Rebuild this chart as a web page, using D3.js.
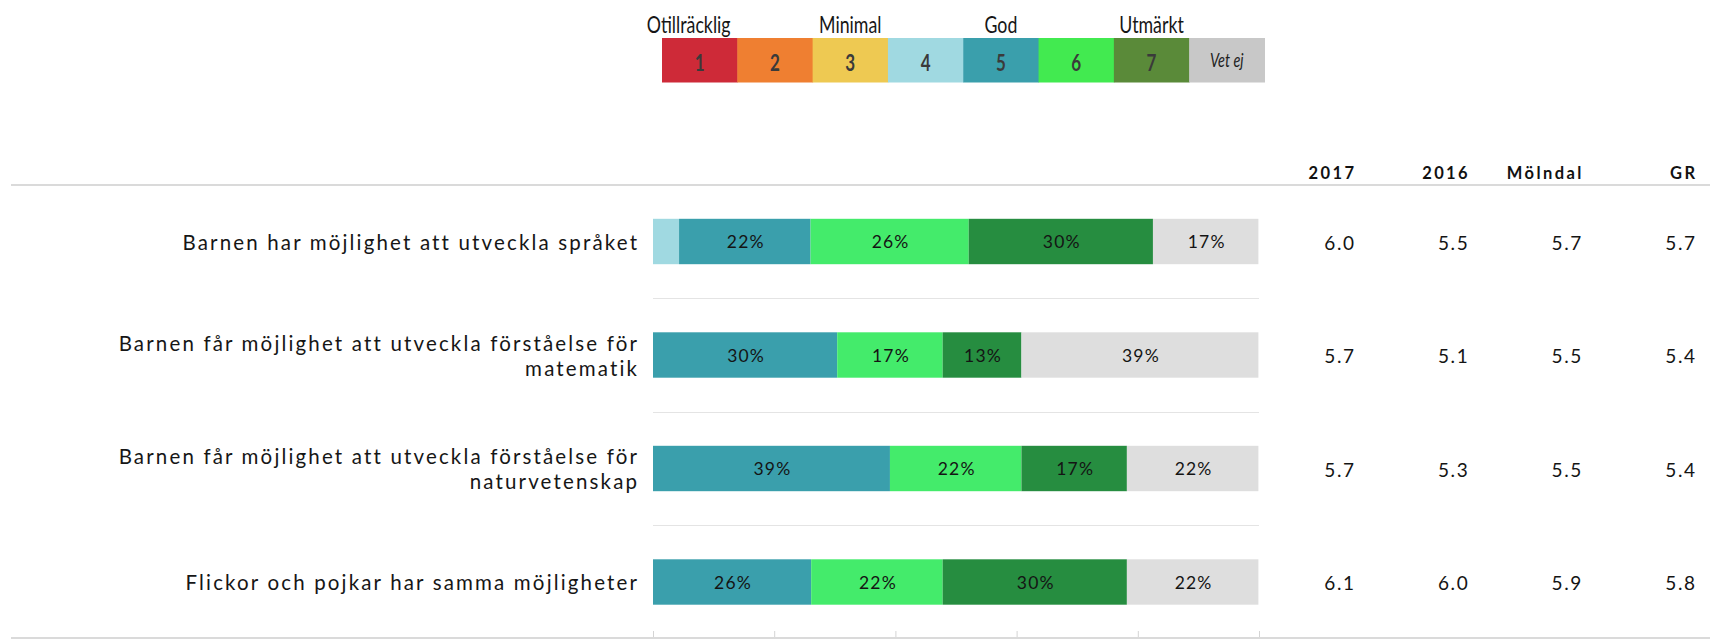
<!DOCTYPE html>
<html>
<head>
<meta charset="utf-8">
<script src="https://cdn.jsdelivr.net/npm/d3@7"></script>
<style>
  html, body { margin: 0; padding: 0; background: #fff; }
  svg { display: block; }
  text { font-family: Lato, "Open Sans", sans-serif; }
</style>
</head>
<body>
<svg id="chart" width="1710" height="639"></svg>
<script>
// ---------- data ----------
const categories = [
  "Barnen har möjlighet att utveckla språket",
  "Barnen får möjlighet att utveckla förståelse för matematik",
  "Barnen får möjlighet att utveckla förståelse för naturvetenskap",
  "Flickor och pojkar har samma möjligheter"
];
const seriesKeys = ["4", "5", "6", "7", "Vet ej"];
const share4     = [4.3, 0, 0, 0];
const share5     = [21.7, 30.4, 39.1, 26.1];
const share6     = [26.1, 17.4, 21.7, 21.7];
const share7     = [30.4, 13.0, 17.4, 30.4];
const shareVetEj = [17.4, 39.1, 21.7, 21.7];

const tableHeaders = ["2017", "2016", "Mölndal", "GR"];
const v2017    = [6.0, 5.7, 5.7, 6.1];
const v2016    = [5.5, 5.1, 5.3, 6.0];
const vMolndal = [5.7, 5.5, 5.5, 5.9];
const vGR      = [5.7, 5.4, 5.4, 5.8];

const legendKeys = ["1", "2", "3", "4", "5", "6", "7", "Vet ej"];
const legendLabels = [
  { key: "1", text: "Otillräcklig" },
  { key: "3", text: "Minimal" },
  { key: "5", text: "God" },
  { key: "7", text: "Utmärkt" }
];
const xTicks = [0, 20, 40, 60, 80, 100];

// ---------- styles ----------
const barColors = {
  "4": "#a0d9e1", "5": "#3a9fac", "6": "#44eb6b", "7": "#268d40", "Vet ej": "#dedede"
};
const legendColors = {
  "1": "#ce2a38", "2": "#ef7f31", "3": "#eec952", "4": "#a0d9e1",
  "5": "#3a9fac", "6": "#42ea50", "7": "#5a8a39", "Vet ej": "#c8c8c8"
};

// ---------- build ----------
const seriesArrays = { "4": share4, "5": share5, "6": share6, "7": share7, "Vet ej": shareVetEj };
const rows = categories.map((c, i) => {
  const r = { category: c };
  seriesKeys.forEach(k => r[k] = seriesArrays[k][i]);
  return r;
});
const columns = [v2017, v2016, vMolndal, vGR];

const svg = d3.select("#chart");
const W = 1710, H = 639;

const x = d3.scaleLinear().domain([0, 100]).range([653, 1259]);
const y = d3.scaleBand().domain(categories).range([184.75, 638.75])
  .paddingInner(0.6).paddingOuter(0.3);
const bw = y.bandwidth();
const step = y.step();

// top and bottom rules
svg.append("line").attr("x1", 11).attr("x2", W).attr("y1", 185).attr("y2", 185)
  .attr("stroke", "#dadada").attr("stroke-width", 2);
svg.append("line").attr("x1", 11).attr("x2", W).attr("y1", 638).attr("y2", 638)
  .attr("stroke", "#dadada").attr("stroke-width", 2);

// row separators
svg.append("g").selectAll("line")
  .data(categories.slice(0, -1))
  .join("line")
  .attr("x1", x(0)).attr("x2", x(100))
  .attr("y1", d => Math.round(y(d) + bw / 2 + step / 2) + 0.5)
  .attr("y2", d => Math.round(y(d) + bw / 2 + step / 2) + 0.5)
  .attr("stroke", "#e4e4e4").attr("stroke-width", 1);

// bottom ticks
const axis = svg.append("g").attr("transform", "translate(0,637)")
  .call(d3.axisTop(x).tickValues(xTicks).tickSize(6).tickFormat(""));
axis.select(".domain").remove();
axis.selectAll(".tick line").attr("stroke", "#d4d4d4");

// stacked bars
const stack = d3.stack().keys(seriesKeys);
const stacked = stack(rows);
const gBars = svg.append("g");
stacked.forEach(layer => {
  const key = layer.key;
  gBars.append("g").selectAll("rect")
    .data(layer)
    .join("rect")
    .attr("x", d => x(d[0]))
    .attr("width", d => Math.max(0, x(d[1]) - x(d[0])))
    .attr("y", d => y(d.data.category))
    .attr("height", bw)
    .attr("fill", barColors[key]);
  gBars.append("g").selectAll("text")
    .data(layer.filter(d => d[1] - d[0] >= 8))
    .join("text")
    .attr("x", d => (x(d[0]) + x(d[1])) / 2 + 1)
    .attr("y", d => y(d.data.category) + bw / 2 + 6.5)
    .attr("text-anchor", "middle")
    .attr("font-size", 17.5)
    .attr("letter-spacing", "1.2px")
    .attr("fill", "#141414")
    .text(d => Math.round(d[1] - d[0]) + "%");
});

// category labels (wrapped, right aligned)
const labelRight = 637;
const gLabels = svg.append("g");
const probe = gLabels.append("text").attr("font-size", 20.5).text(categories[0]);
const natural = probe.node().getComputedTextLength();
probe.remove();
const ls = Math.max(0, (456 - natural) / categories[0].length);

categories.forEach(cat => {
  const words = cat.split(" ");
  const lines = [];
  let cur = [];
  const t = gLabels.append("text").attr("font-size", 20.5).attr("letter-spacing", ls + "px");
  words.forEach(w => {
    const test = cur.concat([w]).join(" ");
    t.text(test);
    if (t.node().getComputedTextLength() > 560 && cur.length) {
      lines.push(cur.join(" "));
      cur = [w];
    } else cur.push(w);
  });
  lines.push(cur.join(" "));
  t.text(null);
  const lh = 25;
  const cy = y(cat) + bw / 2;
  const firstBaseline = cy + 8 - (lines.length - 1) * lh / 2;
  lines.forEach((ln, i) => {
    t.append("tspan")
      .attr("x", labelRight + ls)
      .attr("y", firstBaseline + i * lh)
      .attr("text-anchor", "end")
      .attr("fill", "#161616")
      .text(ln);
  });
});

// table
const colX = d3.scalePoint().domain(tableHeaders).range([1354, 1695]);
const hls = 2.4;
svg.append("g").selectAll("text")
  .data(tableHeaders)
  .join("text")
  .attr("x", d => colX(d) + hls)
  .attr("y", 179)
  .attr("text-anchor", "end")
  .attr("font-size", 16.5)
  .attr("font-weight", 700)
  .attr("letter-spacing", hls + "px")
  .attr("fill", "#111")
  .text(d => d);

const vls = 1.6;
tableHeaders.forEach((h, ci) => {
  svg.append("g").selectAll("text")
    .data(columns[ci].map((v, ri) => ({ v, cat: categories[ri] })))
    .join("text")
    .attr("x", colX(h) + vls)
    .attr("y", d => y(d.cat) + bw / 2 + 8)
    .attr("text-anchor", "end")
    .attr("font-size", 19)
    .attr("letter-spacing", vls + "px")
    .attr("fill", "#141414")
    .text(d => d3.format(".1f")(d.v));
});

// legend
const lx = d3.scaleBand().domain(legendKeys).range([662, 1264.5]);
const gLeg = svg.append("g");
gLeg.selectAll("rect")
  .data(legendKeys)
  .join("rect")
  .attr("x", d => lx(d))
  .attr("y", 38)
  .attr("width", lx.bandwidth() + 0.5)
  .attr("height", 44.5)
  .attr("fill", d => legendColors[d]);

const condense = 0.74;
gLeg.selectAll("text.num")
  .data(legendKeys)
  .join("text")
  .attr("class", "num")
  .attr("transform", d => `translate(${lx(d) + lx.bandwidth() / 2},${d === "Vet ej" ? 67 : 70.5}) scale(${condense},1)`)
  .attr("text-anchor", "middle")
  .attr("font-size", d => d === "Vet ej" ? 19.5 : 23)
  .attr("font-weight", d => d === "Vet ej" ? 400 : 700)
  .attr("font-style", d => d === "Vet ej" ? "italic" : "normal")
  .attr("fill", d => d === "Vet ej" ? "#1e1e1e" : "#3a3a3a")
  .text(d => d);

gLeg.selectAll("text.lab")
  .data(legendLabels)
  .join("text")
  .attr("class", "lab")
  .attr("transform", (d, i) => `translate(${lx(d.key) + lx.bandwidth() / 2 + (i === 0 ? -11 : 0)},32.5) scale(${condense},1)`)
  .attr("text-anchor", "middle")
  .attr("font-size", 24)
  .attr("fill", "#161616")
  .text(d => d.text);
</script>
</body>
</html>
